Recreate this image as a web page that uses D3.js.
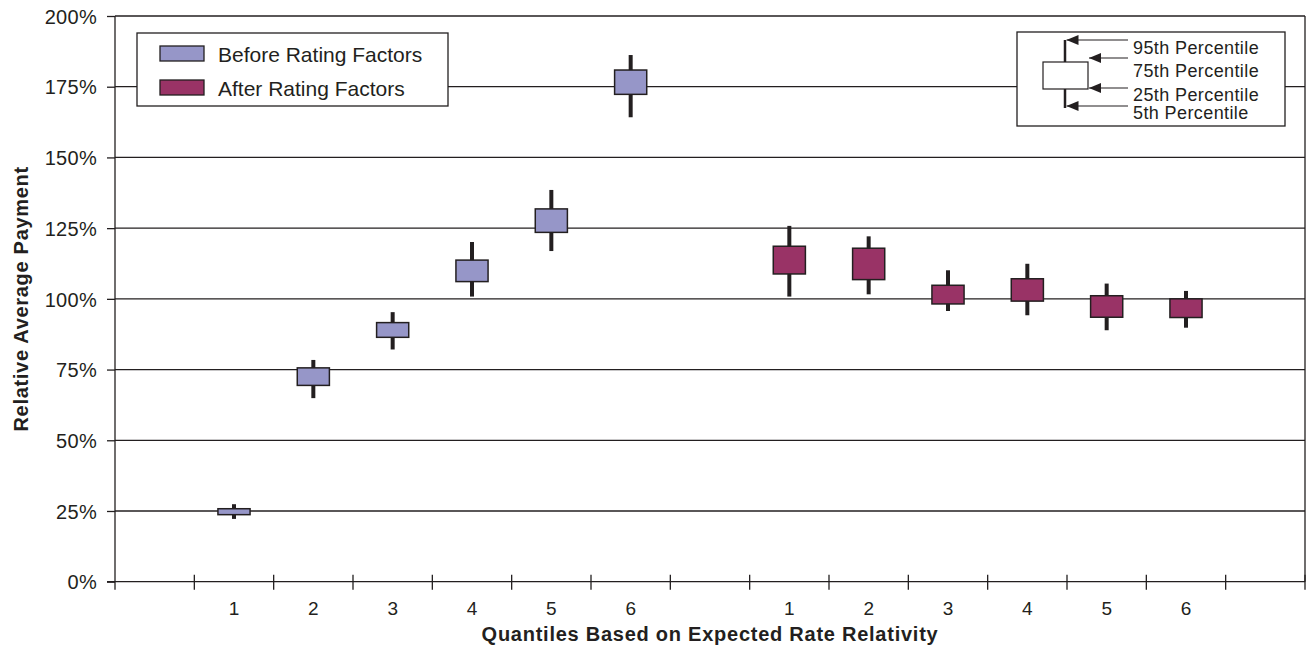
<!DOCTYPE html>
<html>
<head>
<meta charset="utf-8">
<script src="https://cdn.jsdelivr.net/npm/d3@7"></script>
<style>
  html, body { margin: 0; padding: 0; background: #fff; }
  svg { display: block; font-family: "Liberation Sans", Arial, Helvetica, sans-serif; }
</style>
</head>
<body>
<svg id="chart" width="1311" height="649"></svg>
<script>
// Quantile labels and percentile values (in %) for each group
const quantiles = ["1", "2", "3", "4", "5", "6"];

const beforeP5  = [22.2, 64.9, 82.1, 100.8, 116.9, 164.2];
const beforeP25 = [23.7, 69.4, 86.4, 106.1, 123.5, 172.3];
const beforeP75 = [25.8, 75.6, 91.6, 113.7, 131.8, 180.9];
const beforeP95 = [27.4, 78.4, 95.3, 120.1, 138.5, 186.2];

const afterP5  = [100.8, 101.6, 95.7, 94.2, 88.9, 89.8];
const afterP25 = [108.8, 106.8, 98.2, 99.2, 93.5, 93.4];
const afterP75 = [118.6, 117.9, 104.8, 107.1, 101.1, 100.0];
const afterP95 = [125.8, 122.1, 110.1, 112.4, 105.4, 102.8];

const yTicks = [0, 25, 50, 75, 100, 125, 150, 175, 200];

const seriesNames = ["Before Rating Factors", "After Rating Factors"];
const seriesColors = ["#9696c8", "#993366"];

const percentileLabels = ["95th Percentile", "75th Percentile", "25th Percentile", "5th Percentile"];

const ink = "#231f20";
const svg = d3.select("#chart");
const margin = { top: 16, right: 6, bottom: 67.3, left: 115 };
const W = 1311, H = 649;
const iw = W - margin.left - margin.right;
const ih = H - margin.top - margin.bottom;

// Slots along the x axis: an empty slot, the six "before" quantiles, an empty slot,
// the six "after" quantiles, and a trailing empty slot.
const slots = ["g0"].concat(quantiles.map(q => "b" + q), ["g1"], quantiles.map(q => "a" + q), ["g2"]);
const x = d3.scaleBand().domain(slots).range([0, iw]).padding(0);
const y = d3.scaleLinear().domain([0, 200]).range([ih, 0]);

const g = svg.append("g").attr("transform", `translate(${margin.left},${margin.top})`);

// Horizontal gridlines
g.append("g").selectAll("line").data(yTicks.filter(v => v > 0)).join("line")
  .attr("x1", 0).attr("x2", iw)
  .attr("y1", d => y(d)).attr("y2", d => y(d))
  .attr("stroke", ink).attr("stroke-width", 1.3);

// Right border
g.append("line").attr("x1", iw).attr("x2", iw).attr("y1", y(200)).attr("y2", y(0))
  .attr("stroke", ink).attr("stroke-width", 1.3);

// Y axis
const yAxis = g.append("g").call(d3.axisLeft(y).tickValues(yTicks).tickSize(8).tickPadding(10).tickFormat(d => d + "%"));
yAxis.select(".domain").attr("stroke", ink).attr("stroke-width", 1.3).attr("d", `M0,${ih + 8}V0`);
yAxis.selectAll(".tick line").attr("stroke", ink).attr("stroke-width", 1.3);
yAxis.selectAll(".tick text").attr("fill", ink).style("font-size", "20px")
  .style("letter-spacing", "0.3px").attr("dy", "0.36em");

// X axis: ticks on every slot boundary, labels centred in quantile slots
const boundaries = d3.range(slots.length + 1).map(i => i * x.bandwidth());
const xAxisG = g.append("g").attr("transform", `translate(0,${ih})`);
xAxisG.append("line").attr("x1", -8).attr("x2", iw).attr("y1", 0).attr("y2", 0)
  .attr("stroke", ink).attr("stroke-width", 1.3);
xAxisG.selectAll("line.tk").data(boundaries.slice(1)).join("line").attr("class", "tk")
  .attr("x1", d => d).attr("x2", d => d).attr("y1", -7).attr("y2", 8)
  .attr("stroke", ink).attr("stroke-width", 1.3);
const labelSlots = slots.filter(s => s[0] !== "g");
xAxisG.selectAll("text").data(labelSlots).join("text")
  .attr("x", d => x(d) + x.bandwidth() / 2).attr("y", 33)
  .attr("text-anchor", "middle").attr("fill", ink).style("font-size", "19px")
  .text(d => d.slice(1));

// Axis titles
svg.append("text")
  .attr("x", margin.left + x("b1") + (x("a6") + x.bandwidth() - x("b1")) / 2)
  .attr("y", 641).attr("text-anchor", "middle").attr("fill", ink)
  .style("font-size", "20px").style("font-weight", "bold").style("letter-spacing", "0.75px")
  .text("Quantiles Based on Expected Rate Relativity");
svg.append("text")
  .attr("transform", `translate(28,${margin.top + y(100)}) rotate(-90)`)
  .attr("text-anchor", "middle").attr("fill", ink)
  .style("font-size", "20px").style("font-weight", "bold").style("letter-spacing", "0.7px")
  .text("Relative Average Payment");

// Box-and-whisker marks
function drawGroup(prefix, p5, p25, p75, p95, color) {
  const rows = quantiles.map((q, i) => ({ key: prefix + q, p5: p5[i], p25: p25[i], p75: p75[i], p95: p95[i] }));
  const bw = x.bandwidth() * 0.405;
  const grp = g.append("g");
  grp.selectAll("line").data(rows).join("line")
    .attr("x1", d => x(d.key) + x.bandwidth() / 2).attr("x2", d => x(d.key) + x.bandwidth() / 2)
    .attr("y1", d => y(d.p95)).attr("y2", d => y(d.p5))
    .attr("stroke", ink).attr("stroke-width", 4);
  grp.selectAll("rect").data(rows).join("rect")
    .attr("x", d => x(d.key) + x.bandwidth() / 2 - bw / 2).attr("width", bw)
    .attr("y", d => y(d.p75)).attr("height", d => y(d.p25) - y(d.p75))
    .attr("fill", color).attr("stroke", ink).attr("stroke-width", 1.5);
}
drawGroup("b", beforeP5, beforeP25, beforeP75, beforeP95, seriesColors[0]);
drawGroup("a", afterP5, afterP25, afterP75, afterP95, seriesColors[1]);

// Series legend
const leg = svg.append("g").attr("transform", "translate(137,33)");
leg.append("rect").attr("width", 311).attr("height", 73).attr("fill", "#fff")
  .attr("stroke", ink).attr("stroke-width", 1.3);
seriesNames.forEach((name, i) => {
  const row = leg.append("g").attr("transform", `translate(0,${13 + i * 34})`);
  row.append("rect").attr("x", 23).attr("y", 0).attr("width", 44).attr("height", 15)
    .attr("fill", seriesColors[i]).attr("stroke", ink).attr("stroke-width", 1.3);
  row.append("text").attr("x", 81).attr("y", 16).attr("fill", ink)
    .style("font-size", "21px").text(name);
});

// Percentile key
const key = svg.append("g").attr("transform", "translate(1017,32)");
key.append("rect").attr("width", 268).attr("height", 94).attr("fill", "#fff")
  .attr("stroke", ink).attr("stroke-width", 1.3);
const keyDefs = svg.append("defs");
keyDefs.append("marker").attr("id", "arrow").attr("viewBox", "0 0 12 10")
  .attr("refX", 12).attr("refY", 5).attr("markerWidth", 12).attr("markerHeight", 10)
  .attr("markerUnits", "userSpaceOnUse").attr("orient", "auto")
  .append("path").attr("d", "M0,0L12,5L0,10Z").attr("fill", ink);
key.append("line").attr("x1", 48).attr("x2", 48).attr("y1", 8).attr("y2", 76)
  .attr("stroke", ink).attr("stroke-width", 2.5);
key.append("rect").attr("x", 26).attr("y", 30).attr("width", 45).attr("height", 27)
  .attr("fill", "#fff").attr("stroke", ink).attr("stroke-width", 1.2);
const arrowRows = [
  { y: 8, tip: 49.5 },
  { y: 26, tip: 72 },
  { y: 56, tip: 72 },
  { y: 74, tip: 49.5 }
];
arrowRows.forEach(a => {
  key.append("line").attr("x1", 111).attr("x2", a.tip).attr("y1", a.y).attr("y2", a.y)
    .attr("stroke", ink).attr("stroke-width", 1.2).attr("marker-end", "url(#arrow)");
});
const textY = [22, 45, 69, 87];
percentileLabels.forEach((t, i) => {
  key.append("text").attr("x", 116).attr("y", textY[i]).attr("fill", ink)
    .style("font-size", "18px").style("letter-spacing", "0.4px").text(t);
});
</script>
</body>
</html>
